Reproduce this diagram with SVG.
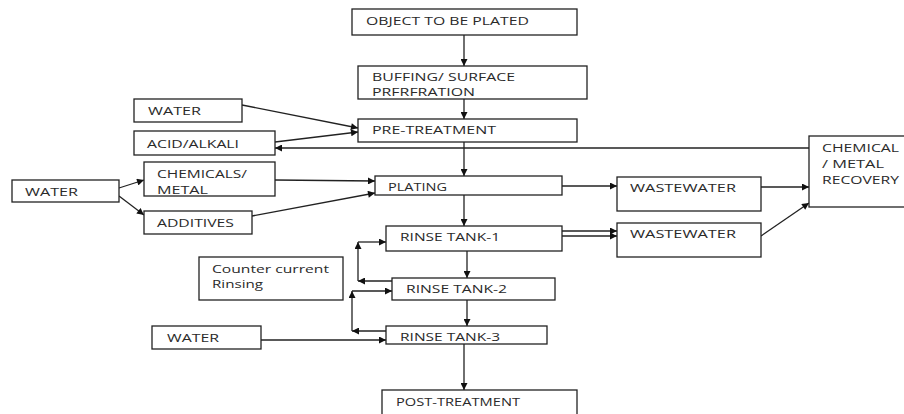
<svg xmlns="http://www.w3.org/2000/svg" width="904" height="414" viewBox="0 0 904 414">
<defs>
<marker id="ah" viewBox="0 0 10 10" refX="10" refY="5" markerWidth="8" markerHeight="7" markerUnits="userSpaceOnUse" orient="auto">
<path d="M0,0 L10,5 L0,10 z" fill="#111"/>
</marker>
</defs>
<style>
.box{fill:#fff;stroke:#222;stroke-width:1.3}
.t{font-family:"Open Sans","Liberation Sans",sans-serif;font-size:11.5px;fill:#2a2a2a}
.c{fill:none;stroke:#222;stroke-width:1.3}
.a{marker-end:url(#ah)}
</style>
<rect width="904" height="414" fill="#fff"/>
<g id="connectors">
<line class="c a" x1="464" y1="35" x2="464" y2="66"/>
<line class="c a" x1="464" y1="99" x2="464" y2="119"/>
<line class="c a" x1="464" y1="142" x2="464" y2="176"/>
<line class="c a" x1="464" y1="195" x2="464" y2="226"/>
<line class="c a" x1="467" y1="251" x2="467" y2="278"/>
<line class="c a" x1="467" y1="300" x2="467" y2="326"/>
<line class="c a" x1="464" y1="344" x2="464" y2="390"/>
<line class="c a" x1="242" y1="105" x2="358" y2="128"/>
<line class="c a" x1="275" y1="142" x2="358" y2="132"/>
<line class="c a" x1="809" y1="148" x2="275" y2="148"/>
<line class="c a" x1="119" y1="188" x2="144" y2="180"/>
<line class="c a" x1="119" y1="196" x2="144" y2="215"/>
<line class="c a" x1="275" y1="180" x2="375" y2="181"/>
<line class="c a" x1="252" y1="216" x2="375" y2="193"/>
<line class="c a" x1="562" y1="186" x2="617" y2="186"/>
<line class="c a" x1="761" y1="187" x2="809" y2="187"/>
<line class="c a" x1="761" y1="236" x2="809" y2="203"/>
<line class="c a" x1="562" y1="231" x2="617" y2="231"/>
<line class="c a" x1="562" y1="236" x2="617" y2="236"/>
<line class="c a" x1="392" y1="281" x2="358" y2="281"/>
<line class="c a" x1="358" y1="281" x2="358" y2="242"/>
<line class="c a" x1="358" y1="242" x2="386" y2="242"/>
<line class="c a" x1="386" y1="331" x2="352" y2="331"/>
<line class="c a" x1="352" y1="331" x2="352" y2="291"/>
<line class="c a" x1="352" y1="291" x2="392" y2="291"/>
<line class="c a" x1="261" y1="340" x2="386" y2="340"/>
</g>
<g id="object"><rect class="box" x="352" y="9" width="225" height="26"/><text class="t" x="366" y="25" textLength="163" lengthAdjust="spacingAndGlyphs">OBJECT TO BE PLATED</text></g>
<g id="buffing"><rect class="box" x="358" y="66" width="229" height="33"/><text class="t" x="372" y="81" textLength="143" lengthAdjust="spacingAndGlyphs">BUFFING/ SURFACE</text><text class="t" x="372" y="96" textLength="103" lengthAdjust="spacingAndGlyphs">PRFRFRATION</text></g>
<g id="pretreatment"><rect class="box" x="358" y="119" width="219" height="23"/><text class="t" x="372" y="134" textLength="124" lengthAdjust="spacingAndGlyphs">PRE-TREATMENT</text></g>
<g id="water1"><rect class="box" x="134" y="99" width="108" height="23"/><text class="t" x="148" y="115" textLength="53" lengthAdjust="spacingAndGlyphs">WATER</text></g>
<g id="acid"><rect class="box" x="134" y="131" width="141" height="24"/><text class="t" x="147" y="148" textLength="92" lengthAdjust="spacingAndGlyphs">ACID/ALKALI</text></g>
<g id="water2"><rect class="box" x="12" y="180" width="107" height="22"/><text class="t" x="25" y="196" textLength="53" lengthAdjust="spacingAndGlyphs">WATER</text></g>
<g id="chemicals"><rect class="box" x="144" y="162" width="131" height="34"/><text class="t" x="157" y="178" textLength="90" lengthAdjust="spacingAndGlyphs">CHEMICALS/</text><text class="t" x="157" y="194" textLength="51" lengthAdjust="spacingAndGlyphs">METAL</text></g>
<g id="additives"><rect class="box" x="144" y="211" width="108" height="23"/><text class="t" x="157" y="227" textLength="77" lengthAdjust="spacingAndGlyphs">ADDITIVES</text></g>
<g id="plating"><rect class="box" x="375" y="176" width="187" height="19"/><text class="t" x="388" y="191" textLength="59" lengthAdjust="spacingAndGlyphs">PLATING</text></g>
<g id="wastewater1"><rect class="box" x="617" y="177" width="144" height="34"/><text class="t" x="630" y="192" textLength="106" lengthAdjust="spacingAndGlyphs">WASTEWATER</text></g>
<g id="recovery"><rect class="box" x="809" y="136" width="100" height="71"/><text class="t" x="822" y="152" textLength="77" lengthAdjust="spacingAndGlyphs">CHEMICAL</text><text class="t" x="822" y="168" textLength="62" lengthAdjust="spacingAndGlyphs">/ METAL</text><text class="t" x="822" y="184" textLength="77" lengthAdjust="spacingAndGlyphs">RECOVERY</text></g>
<g id="rinse1"><rect class="box" x="386" y="226" width="176" height="25"/><text class="t" x="400" y="241" textLength="100" lengthAdjust="spacingAndGlyphs">RINSE TANK-1</text></g>
<g id="wastewater2"><rect class="box" x="617" y="223" width="144" height="34"/><text class="t" x="630" y="238" textLength="106" lengthAdjust="spacingAndGlyphs">WASTEWATER</text></g>
<g id="counter"><rect class="box" x="199" y="257" width="144" height="43"/><text class="t" x="212" y="273" textLength="117" lengthAdjust="spacingAndGlyphs">Counter current</text><text class="t" x="212" y="288" textLength="51" lengthAdjust="spacingAndGlyphs">Rinsing</text></g>
<g id="rinse2"><rect class="box" x="392" y="278" width="163" height="22"/><text class="t" x="406" y="293" textLength="101" lengthAdjust="spacingAndGlyphs">RINSE TANK-2</text></g>
<g id="water3"><rect class="box" x="152" y="326" width="109" height="23"/><text class="t" x="167" y="342" textLength="52" lengthAdjust="spacingAndGlyphs">WATER</text></g>
<g id="rinse3"><rect class="box" x="386" y="326" width="161" height="18"/><text class="t" x="400" y="341" textLength="100" lengthAdjust="spacingAndGlyphs">RINSE TANK-3</text></g>
<g id="posttreatment"><rect class="box" x="382" y="390" width="195" height="30"/><text class="t" x="396" y="406" textLength="124" lengthAdjust="spacingAndGlyphs">POST-TREATMENT</text></g>
</svg>
